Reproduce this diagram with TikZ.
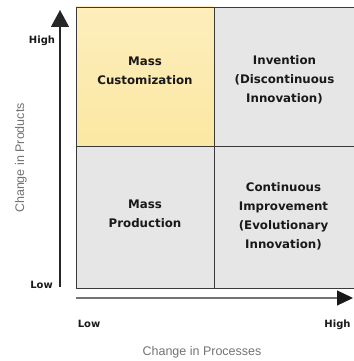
\documentclass[tikz,border=0pt]{standalone}
\usepackage{fontspec}
\setmainfont{DejaVu Sans}
\newfontfamily\lightfont{Liberation Sans}
\usetikzlibrary{arrows.meta}
\definecolor{quadyellow}{HTML}{FCE8A4}
\definecolor{quadgray}{HTML}{E6E6E6}
\definecolor{gridline}{HTML}{3A3A3A}
\tikzset{
  quadtext/.style={font=\fontsize{11.8}{19}\selectfont\bfseries, align=center, text=black!90},
  ticktext/.style={font=\fontsize{10}{11}\selectfont\bfseries, text=black!90},
  axistitle/.style={font=\lightfont\fontsize{12.5}{14}\selectfont, text=black!55},
}
\begin{document}
\begin{tikzpicture}[x=1pt,y=1pt]
\useasboundingbox (0,0) rectangle (353,361);
% quadrants
\fill[top color=quadyellow!75, bottom color=quadyellow] (76,215) rectangle (214,354);
\fill[quadgray] (214,215) rectangle (354,354);
\fill[quadgray] (76,73) rectangle (214,215);
\fill[quadgray] (214,73) rectangle (354,215);
\draw[gridline, line width=0.9pt] (76,73) rectangle (354,354);
\draw[gridline, line width=0.9pt] (214,73) -- (214,354);
\draw[gridline, line width=0.9pt] (76,215) -- (354,215);
% axes
\coordinate (ybot) at (60,74);
\coordinate (ytop) at (60,351);
\coordinate (xleft) at (76,63);
\coordinate (xright) at (353,63);
\draw[black!85, line width=1.3pt, -{Triangle[length=17pt,width=18pt]}] (ybot) -- (ytop);
\draw[black!55, line width=1.2pt, -{Triangle[length=16pt,width=15pt,fill=black!90,color=black!90]}] (xleft) -- (xright);
% tick labels
\node[ticktext] (yhigh) at (42,320.5) {High};
\node[ticktext] (ylow) at (41.5,76.5) {Low};
\node[ticktext] (xlow) at (89,37.5) {Low};
\node[ticktext] (xhigh) at (337.5,36) {High};
% axis titles
\node[axistitle, rotate=90] (ytitle) at (21,203) {Change in Products};
\node[axistitle] (xtitle) at (202,9) {Change in Processes};
% quadrant labels
\node[quadtext] (mc) at (145,290.5) {Mass\\Customization};
\node[quadtext] (inv) at (284.5,281) {Invention\\(Discontinuous\\Innovation)};
\node[quadtext] (mp) at (145,147.5) {Mass\\Production};
\node[quadtext] (ci) at (283.5,144.5) {Continuous\\Improvement\\(Evolutionary\\Innovation)};
\end{tikzpicture}
\end{document}
